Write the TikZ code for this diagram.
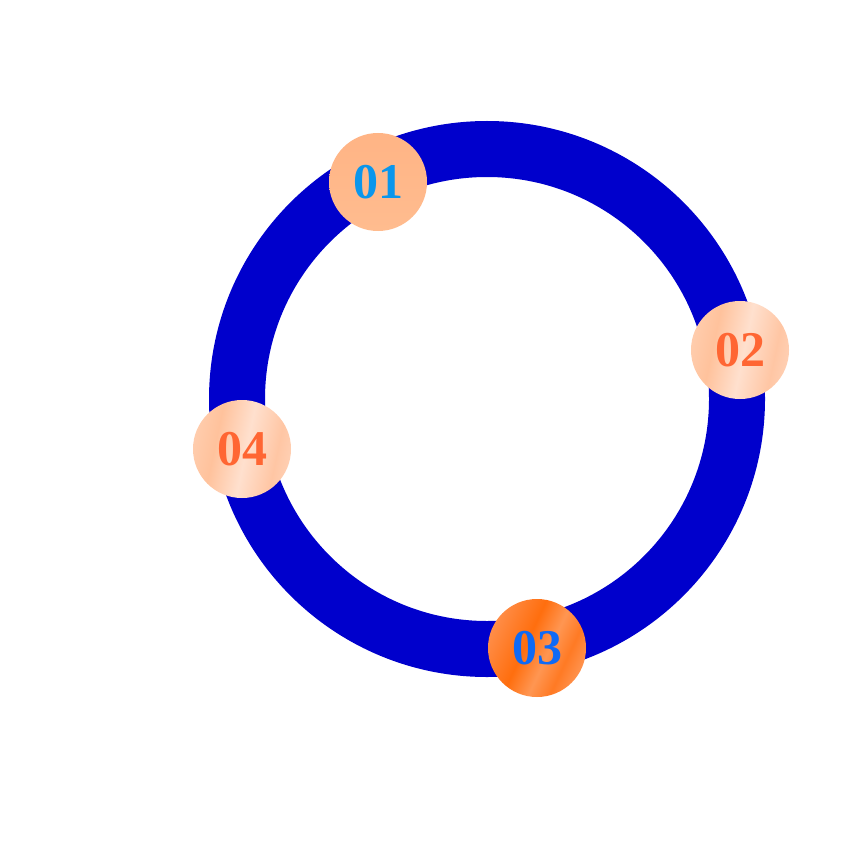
\documentclass[tikz,border=0pt]{standalone}
\usepackage{fontspec}
\setmainfont{Liberation Serif}
\definecolor{ringblue}{HTML}{0000CC}
\definecolor{tblue}{HTML}{0A96EC}
\definecolor{tblueb}{HTML}{0F6AF5}
\definecolor{torange}{HTML}{FF6633}
\definecolor{pA}{HTML}{FFDCC6}
\definecolor{pB}{HTML}{FFC29C}
\definecolor{pC}{HTML}{FFE0CE}
\definecolor{pD}{HTML}{FFC6A4}
\definecolor{pE}{HTML}{FFE4D4}
\definecolor{oA}{HTML}{FFA676}
\definecolor{oB}{HTML}{FF6E0E}
\definecolor{oC}{HTML}{FF9652}
\definecolor{oD}{HTML}{FF7A24}
\definecolor{oE}{HTML}{FFBC94}
\definecolor{fA}{HTML}{FFB485}
\definecolor{fB}{HTML}{FFBC8F}
\pgfdeclarehorizontalshading{peachstripe}{100bp}{color(0bp)=(pA); color(8bp)=(pA); color(36bp)=(pB); color(52bp)=(pC); color(68bp)=(pD); color(92bp)=(pE); color(100bp)=(pE)}
\pgfdeclarehorizontalshading{orangestripe}{100bp}{color(0bp)=(oA); color(10bp)=(oA); color(44bp)=(oB); color(56bp)=(oC); color(66bp)=(oD); color(90bp)=(oE); color(100bp)=(oE)}
\pgfdeclareverticalshading{flatpeach}{100bp}{color(0bp)=(fB); color(25bp)=(fB); color(75bp)=(fA); color(100bp)=(fA)}
\tikzset{
  ball/.style={circle, minimum size=98pt, inner sep=0pt,
    font=\fontsize{50}{50}\selectfont\bfseries},
  stripeball/.style={ball, shading=peachstripe, shading angle=-12, text=torange},
}
\begin{document}
\begin{tikzpicture}[x=1pt,y=-1pt]
\useasboundingbox (0,0) rectangle (850,850);
\fill[white] (0,0) rectangle (850,850);
\node[circle, draw=ringblue, line width=56pt, minimum size=500pt, inner sep=0pt] (ring) at (487,399) {};
\node[ball, shading=flatpeach, text=tblue] (n1) at (378,182) {01};
\node[stripeball] (n2) at (740,350) {02};
\node[ball, shading=orangestripe, shading angle=-25, text=tblueb] (n3) at (537,648) {03};
\node[stripeball] (n4) at (242,449) {04};
\end{tikzpicture}
\end{document}
